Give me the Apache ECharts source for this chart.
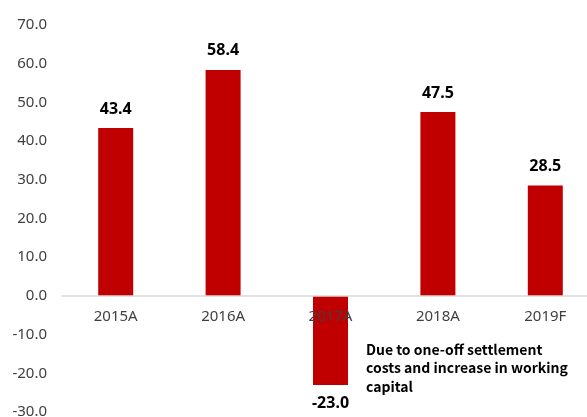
<!DOCTYPE html>
<html>
<head>
<meta charset="utf-8">
<script src="https://cdn.jsdelivr.net/npm/echarts@6/dist/echarts.min.js"></script>
<style>
html,body{margin:0;padding:0;background:#fff;}
#chart{width:587px;height:417px;}
</style>
</head>
<body>
<div id="chart"></div>
<script>
const categories = ['2015A', '2016A', '2017A', '2018A', '2019F'];
const values = [43.4, 58.4, -23.0, 47.5, 28.5];
const yTicks = { min: -30, max: 70, interval: 10 };
const note = 'Due to one-off settlement\ncosts and increase in working\ncapital';

const FONT = '"Noto Sans", "Noto Sans CJK KR", sans-serif';
const NOTE_FONT = '"Noto Sans CJK KR", "Noto Sans", sans-serif';
const chart = echarts.init(document.getElementById('chart'), null, { renderer: 'canvas' });
chart.setOption({
  animation: false,
  grid: { left: 62, top: 25, width: 537, height: 387, containLabel: false, outerBoundsMode: 'none' },
  xAxis: {
    type: 'category',
    data: categories,
    axisLine: { show: true, onZero: true, lineStyle: { color: '#d9d9d9', width: 1.5 } },
    axisTick: { show: false },
    axisLabel: { color: '#404040', fontSize: 15, fontFamily: FONT, margin: -103 },
    z: 5
  },
  yAxis: {
    type: 'value',
    min: yTicks.min, max: yTicks.max, interval: yTicks.interval,
    axisLine: { show: false },
    axisTick: { show: false },
    splitLine: { show: false },
    axisLabel: {
      color: '#404040', fontSize: 15, fontFamily: FONT, margin: 15,
      formatter: v => v.toFixed(1)
    }
  },
  series: [{
    type: 'bar',
    data: values.map(v => v < 0 ? { value: v, label: { position: 'bottom' } } : v),
    barWidth: 35,
    z: 3,
    itemStyle: { color: '#C00000' },
    label: {
      show: true,
      position: 'top',
      distance: 11,
      color: '#000',
      fontSize: 16,
      fontWeight: 'bold',
      fontFamily: FONT,
      formatter: p => p.value.toFixed(1)
    }
  }],
  graphic: [{
    type: 'text',
    left: 366,
    top: 340,
    style: {
      text: note,
      fill: '#000',
      font: '600 14px ' + NOTE_FONT,
      lineHeight: 18.5
    }
  }]
});
</script>
</body>
</html>
